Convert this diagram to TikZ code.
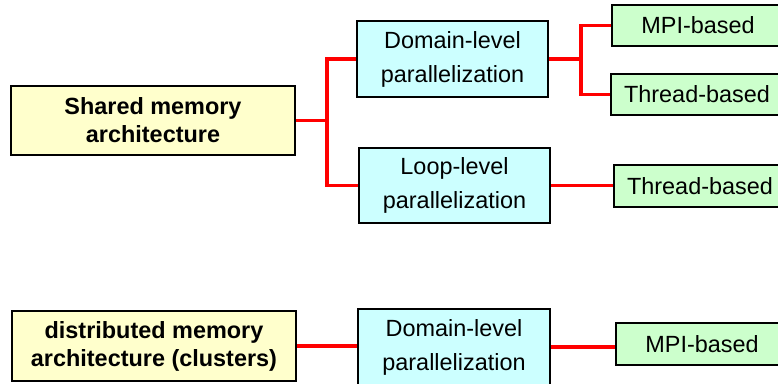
\documentclass[tikz,border=0pt]{standalone}
\usepackage{fontspec}
\setmainfont{Liberation Sans}
\definecolor{archfill}{HTML}{FFFFCC}
\definecolor{levelfill}{HTML}{CCFFFF}
\definecolor{modelfill}{HTML}{CCFFCC}
\begin{document}
\begin{tikzpicture}[x=0.03cm,y=-0.03cm]
\tikzstyle{every node}+=[inner sep=0pt,align=center]
\tikzstyle{box}=[draw=black,line width=1.7pt]
\tikzstyle{archbox}=[box,fill=archfill,minimum width=8.52cm,minimum height=2.08cm,font=\fontsize{20}{24}\selectfont\bfseries]
\tikzstyle{levelbox}=[box,fill=levelfill,minimum width=5.74cm,minimum height=2.27cm,font=\fontsize{20}{29}\selectfont]
\tikzstyle{modelbox}=[box,fill=modelfill,minimum width=5.16cm,minimum height=1.24cm,font=\fontsize{20}{24}\selectfont]
\tikzstyle{link}=[red,line width=3pt]
\clip (0,0) rectangle (778,383);
% shared memory
\node [archbox] (shared) at (153,120.5) {Shared memory\\architecture};
\node [levelbox] (dom1) at (452.5,59) {Domain-level\\parallelization};
\node [levelbox] (loop) at (454.5,185.5) {Loop-level\\parallelization};
\node [modelbox] (mpi1) at (698,25.5) {MPI-based};
\node [modelbox] (thr1) at (697,94.5) {Thread-based};
\node [modelbox] (thr2) at (700,186) {Thread-based};
\coordinate (j1) at (327,120.5);
\coordinate (j2) at (581,59);
\draw [link] (shared.east) -- (j1);
\draw [link] (j1) |- (dom1.west);
\draw [link] (j1) |- (loop.west);
\draw [link] (dom1.east) -- (j2);
\draw [link] (j2) |- (mpi1.west);
\draw [link] (j2) |- (thr1.west);
\draw [link] (loop.east) -- (loop.east -| thr2.west);
% distributed memory
\node [archbox] (dist) at (154,346) {distributed memory\\architecture (clusters)};
\node [levelbox] (dom2) at (454,347) {Domain-level\\parallelization};
\node [modelbox] (mpi2) at (702,344) {MPI-based};
\draw [link] (dist.east) -- (dist.east -| dom2.west);
\draw [link] (dom2.east) -- (dom2.east -| mpi2.west);
\end{tikzpicture}
\end{document}
